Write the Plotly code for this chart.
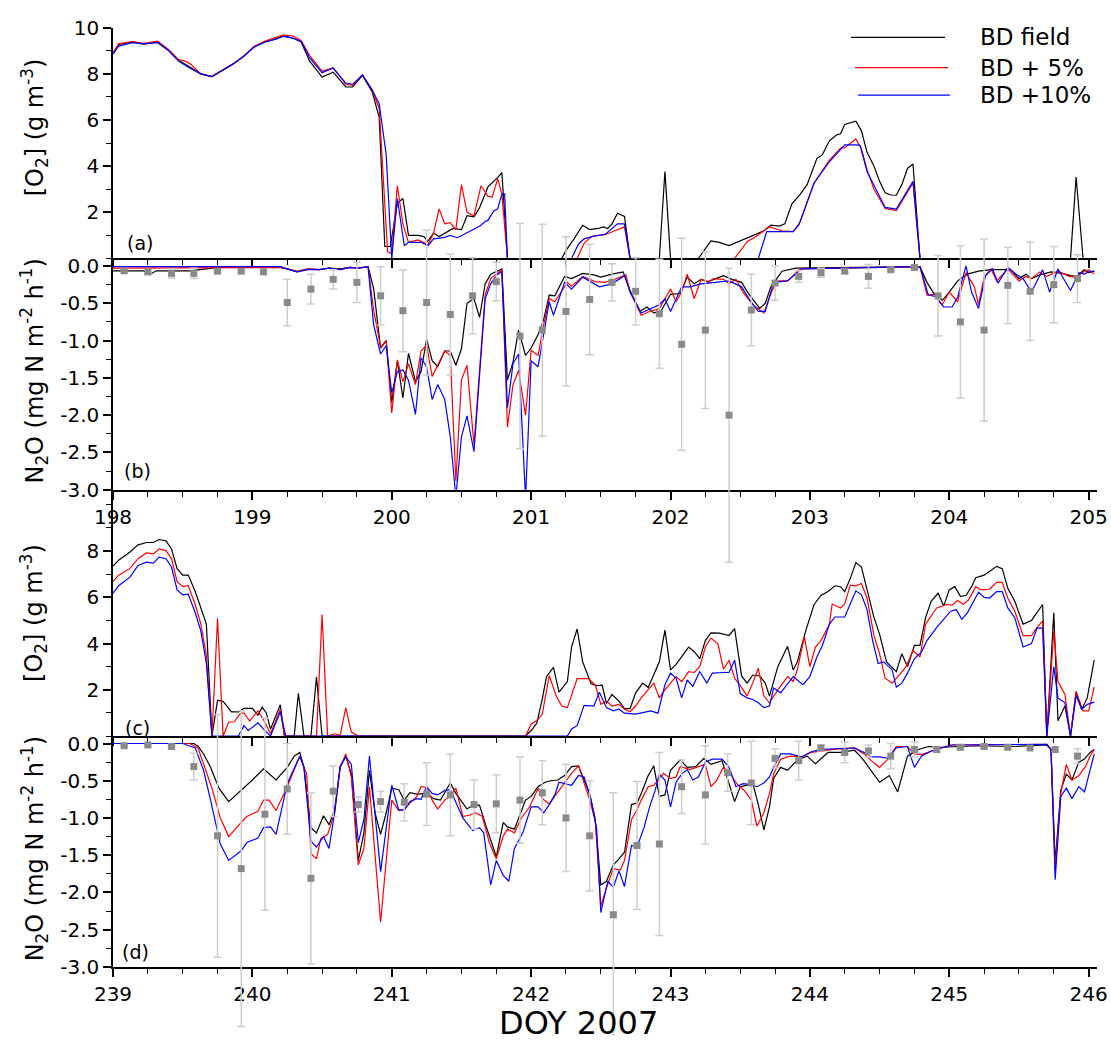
import plotly.graph_objects as go

# ---------------- Panel (a): [O2] DOY 198-205 ----------------
A_FIELD = [(198.00,8.9),(198.04,9.27),(198.14,9.38),(198.22,9.29),(198.32,9.38),(198.40,9.01),(198.47,8.59),(198.55,8.28),
 (198.63,8.00),(198.71,7.88),(198.78,8.14),(198.86,8.42),(198.94,8.77),(199.01,9.15),(199.09,9.38),(199.17,9.52),
 (199.22,9.66),(199.29,9.55),(199.35,9.38),(199.41,8.56),(199.50,7.86),(199.58,8.07),(199.67,7.43),(199.72,7.43),
 (199.79,7.93),(199.86,7.22),(199.91,6.10),(199.95,0.52),(199.99,0.52),(200.04,2.40),(200.08,2.60),(200.12,1.00),
 (200.19,1.00),(200.23,0.95),(200.26,0.75),(200.30,1.10),(200.34,0.95),(200.44,1.30),(200.50,1.25),(200.54,1.85),
 (200.59,1.80),(200.63,2.20),(200.69,3.10),(200.76,3.50),(200.79,3.72),(200.83,0),(201.22,0),(201.25,0.35),
 (201.31,0.87),(201.37,1.44),(201.42,1.25),(201.48,1.30),(201.52,1.37),(201.55,1.30),(201.58,1.50),(201.62,1.96),
 (201.67,1.82),(201.71,0),(201.92,0),(201.96,3.77),(202.00,0),(202.20,0),(202.29,0.76),(202.35,0.70),(202.42,0.56),
 (202.51,0.80),(202.59,1.00),(202.67,1.20),(202.72,1.44),(202.78,1.40),(202.82,1.50),(202.87,2.36),(202.93,2.78),
 (202.98,3.20),(203.05,4.33),(203.09,4.50),(203.14,5.10),(203.19,5.35),(203.22,5.40),(203.25,5.81),(203.33,5.95),
 (203.37,5.53),(203.41,4.60),(203.46,4.00),(203.50,3.34),(203.54,2.85),(203.58,2.75),(203.62,2.74),(203.66,3.20),
 (203.70,3.90),(203.74,4.09),(203.79,0),(204.87,0),(204.91,3.53),(204.96,0),(205.06,0)]
A_PLUS5 = [(198.00,8.9),(198.04,9.30),(198.14,9.40),(198.22,9.32),(198.32,9.42),(198.40,9.05),(198.47,8.62),(198.52,8.55),
 (198.56,8.40),(198.63,8.00),(198.71,7.88),(198.78,8.14),(198.86,8.42),(198.94,8.77),(199.01,9.18),(199.09,9.42),
 (199.17,9.58),(199.22,9.68),(199.29,9.65),(199.35,9.45),(199.41,8.80),(199.50,8.12),(199.58,8.25),(199.67,7.55),
 (199.72,7.50),(199.79,7.95),(199.86,7.30),(199.91,6.50),(199.97,0.30),(200.00,0.20),(200.04,3.15),(200.08,1.50),
 (200.12,0.70),(200.19,0.80),(200.26,0.60),(200.30,1.10),(200.34,2.15),(200.38,1.50),(200.42,1.55),(200.46,1.25),
 (200.50,3.20),(200.54,2.00),(200.59,1.85),(200.64,3.15),(200.69,2.70),(200.72,2.65),(200.76,3.45),(200.79,2.80),
 (200.83,0),(201.33,0),(201.38,0.66),(201.43,0.94),(201.48,1.00),(201.53,1.03),(201.60,1.20),(201.67,1.37),
 (201.71,0),(202.46,0),(202.55,0.73),(202.61,0.94),(202.71,1.37),(202.80,1.20),(202.88,1.16),(202.93,1.58),
 (203.03,3.27),(203.14,4.26),(203.22,4.78),(203.25,4.80),(203.33,5.18),(203.37,4.75),(203.41,3.84),(203.46,3.00),
 (203.54,2.17),(203.62,2.07),(203.67,2.57),(203.74,3.27),(203.79,0),(205.06,0)]
A_PLUS10 = [(198.00,8.85),(198.04,9.20),(198.14,9.35),(198.22,9.30),(198.32,9.35),(198.40,9.00),(198.47,8.55),(198.55,8.25),
 (198.63,8.00),(198.71,7.88),(198.78,8.14),(198.86,8.42),(198.94,8.77),(199.01,9.15),(199.09,9.38),(199.17,9.50),
 (199.22,9.62),(199.29,9.55),(199.35,9.40),(199.41,8.70),(199.50,8.05),(199.58,8.25),(199.67,7.60),(199.72,7.55),
 (199.79,7.95),(199.86,7.30),(199.91,6.70),(199.96,4.50),(200.00,0),(200.04,2.60),(200.09,0.55),(200.12,0.70),
 (200.21,0.70),(200.26,0.55),(200.30,0.85),(200.37,0.90),(200.42,1.00),(200.47,0.90),(200.52,1.05),(200.57,1.20),
 (200.63,1.40),(200.67,1.60),(200.69,1.65),(200.73,2.05),(200.76,2.15),(200.79,2.80),(200.81,2.80),(200.83,0),
 (201.29,0),(201.34,0.63),(201.38,0.85),(201.45,0.97),(201.53,1.04),(201.62,1.50),(201.67,1.50),(201.71,0),
 (202.63,0),(202.69,1.16),(202.81,1.16),(202.88,1.16),(202.92,1.44),(203.03,3.27),(203.14,4.19),(203.25,4.92),
 (203.33,4.92),(203.36,4.90),(203.41,3.77),(203.54,2.21),(203.62,2.14),(203.74,3.34),(203.79,0),(205.06,0)]

# ---------------- Panel (b): N2O flux DOY 198-205 ----------------
B_FIELD = [(198.00,-0.065),(198.22,-0.065),(198.26,-0.12),(198.31,-0.065),(198.55,-0.065),(198.76,-0.02),(199.20,-0.02),
 (199.25,-0.04),(199.32,-0.08),(199.40,-0.04),(199.48,-0.05),(199.55,-0.03),(199.63,-0.04),(199.70,-0.02),(199.76,-0.03),
 (199.83,-0.01),(199.87,-0.30),(199.92,-1.10),(199.96,-1.00),(200.00,-1.83),(200.04,-1.27),(200.08,-1.77),(200.12,-1.17),
 (200.17,-1.55),(200.21,-1.42),(200.25,-0.98),(200.29,-1.27),(200.33,-1.35),(200.38,-1.14),(200.42,-1.14),(200.46,-1.33),
 (200.50,-1.11),(200.54,-0.50),(200.59,-0.44),(200.63,-0.69),(200.67,-0.24),(200.71,-0.11),(200.75,-0.07),(200.79,-0.04),
 (200.83,-1.53),(200.87,-1.29),(200.91,-0.86),(200.96,-1.20),(201.00,-1.10),(201.05,-0.92),(201.09,-0.72),(201.13,-0.39),
 (201.17,-0.40),(201.24,-0.14),(201.29,-0.17),(201.37,-0.10),(201.45,-0.12),(201.50,-0.15),(201.58,-0.11),(201.66,-0.08),
 (201.71,-0.33),(201.78,-0.61),(201.83,-0.55),(201.88,-0.63),(201.93,-0.61),(202.00,-0.38),(202.07,-0.37),(202.12,-0.15),
 (202.17,-0.24),(202.22,-0.18),(202.27,-0.21),(202.33,-0.17),(202.38,-0.13),(202.44,-0.18),(202.51,-0.22),(202.56,-0.37),
 (202.64,-0.57),(202.68,-0.50),(202.72,-0.28),(202.80,-0.07),(202.90,-0.03),(203.79,-0.01),(203.84,-0.22),(203.89,-0.37),
 (203.95,-0.46),(204.00,-0.35),(204.06,-0.20),(204.13,-0.11),(204.21,-0.07),(204.30,-0.05),(204.44,-0.05),(204.50,-0.17),
 (204.55,-0.11),(204.59,-0.17),(204.65,-0.12),(204.73,-0.08),(204.81,-0.10),(204.87,-0.13),(204.91,-0.14),(204.97,-0.05),
 (205.00,-0.09),(205.04,-0.07)]
B_PLUS5 = [(198.00,-0.03),(199.20,-0.02),(199.25,-0.04),(199.32,-0.07),(199.40,-0.04),(199.48,-0.05),(199.55,-0.03),
 (199.63,-0.05),(199.70,-0.02),(199.76,-0.03),(199.83,-0.01),(199.87,-0.59),(199.92,-1.09),(199.96,-1.00),(200.00,-1.97),
 (200.04,-1.26),(200.08,-1.55),(200.12,-1.31),(200.17,-1.59),(200.21,-1.14),(200.25,-1.06),(200.29,-1.48),(200.33,-1.33),
 (200.38,-1.14),(200.42,-1.20),(200.46,-2.88),(200.50,-1.53),(200.54,-1.33),(200.59,-2.40),(200.67,-0.39),(200.71,-0.17),
 (200.75,-0.11),(200.79,-0.05),(200.83,-2.16),(200.87,-1.59),(200.91,-1.40),(200.96,-2.00),(201.00,-1.13),(201.05,-1.20),
 (201.09,-0.79),(201.13,-0.44),(201.17,-0.48),(201.26,-0.22),(201.29,-0.27),(201.37,-0.14),(201.46,-0.21),(201.53,-0.22),
 (201.60,-0.18),(201.68,-0.12),(201.71,-0.35),(201.79,-0.66),(201.85,-0.61),(201.92,-0.57),(202.00,-0.31),(202.04,-0.48),
 (202.08,-0.35),(202.12,-0.11),(202.17,-0.44),(202.22,-0.18),(202.27,-0.22),(202.31,-0.17),(202.38,-0.18),(202.42,-0.24),
 (202.47,-0.18),(202.52,-0.35),(202.59,-0.52),(202.67,-0.63),(202.71,-0.42),(202.76,-0.20),(202.84,-0.20),(202.93,-0.04),
 (203.79,-0.01),(203.84,-0.39),(203.89,-0.38),(203.95,-0.52),(204.00,-0.35),(204.06,-0.48),(204.12,-0.09),(204.18,-0.28),
 (204.21,-0.52),(204.25,-0.15),(204.30,-0.04),(204.34,-0.20),(204.42,-0.04),(204.50,-0.20),(204.55,-0.14),(204.59,-0.17),
 (204.65,-0.08),(204.70,-0.14),(204.78,-0.07),(204.86,-0.14),(204.91,-0.15),(204.97,-0.07),(205.00,-0.05),(205.04,-0.11)]
B_PLUS10 = [(198.00,-0.01),(199.20,-0.01),(199.25,-0.04),(199.32,-0.08),(199.40,-0.05),(199.48,-0.05),(199.55,-0.03),
 (199.63,-0.05),(199.70,-0.02),(199.76,-0.03),(199.83,-0.01),(199.87,-0.79),(199.92,-1.18),(199.96,-1.07),(200.00,-1.70),
 (200.04,-1.42),(200.08,-1.39),(200.12,-1.53),(200.17,-1.99),(200.21,-1.23),(200.25,-1.35),(200.29,-1.79),(200.33,-1.59),
 (200.38,-1.79),(200.42,-2.29),(200.46,-3.10),(200.50,-2.29),(200.54,-2.01),(200.59,-2.49),(200.67,-0.44),(200.71,-0.24),
 (200.75,-0.13),(200.79,-0.07),(200.83,-1.90),(200.87,-1.31),(200.91,-1.18),(200.96,-3.12),(201.00,-1.27),(201.05,-1.35),
 (201.09,-0.92),(201.13,-0.48),(201.16,-0.66),(201.24,-0.22),(201.29,-0.31),(201.37,-0.15),(201.49,-0.28),(201.58,-0.24),
 (201.67,-0.13),(201.71,-0.35),(201.79,-0.63),(201.86,-0.57),(201.92,-0.52),(201.96,-0.44),(202.00,-0.61),(202.08,-0.28),
 (202.14,-0.28),(202.22,-0.24),(202.33,-0.22),(202.42,-0.20),(202.51,-0.28),(202.57,-0.46),(202.63,-0.61),(202.68,-0.61),
 (202.74,-0.22),(202.84,-0.20),(202.94,-0.04),(203.79,-0.01),(203.85,-0.39),(203.90,-0.41),(203.96,-0.55),(204.02,-0.55),
 (204.06,-0.42),(204.12,0.00),(204.16,-0.35),(204.21,-0.57),(204.26,-0.13),(204.31,-0.04),(204.35,-0.23),(204.42,-0.02),
 (204.48,-0.11),(204.53,-0.17),(204.59,-0.35),(204.67,-0.05),(204.72,-0.35),(204.78,-0.04),(204.87,-0.33),(204.93,-0.09),
 (204.97,-0.11),(205.00,-0.08),(205.04,-0.07)]
# measured fluxes: (day, mean, error)
B_MEASURED = [(198.08,-0.065,0.02),(198.25,-0.08,0.03),(198.42,-0.10,0.06),(198.58,-0.10,0.07),(198.75,-0.07,0.02),
 (198.92,-0.07,0.02),(199.08,-0.08,0.03),(199.25,-0.49,0.31),(199.42,-0.31,0.20),(199.58,-0.18,0.13),(199.75,-0.22,0.27),
 (199.92,-0.40,0.39),(200.08,-0.60,0.55),(200.25,-0.49,0.97),(200.42,-0.65,0.81),(200.58,-0.40,0.51),(200.75,-0.21,0.26),
 (200.92,-0.94,1.51),(201.08,-0.86,1.42),(201.25,-0.61,1.00),(201.42,-0.45,0.74),(201.58,-0.22,0.25),(201.75,-0.34,0.45),
 (201.92,-0.64,0.73),(202.08,-1.05,1.42),(202.25,-0.86,1.05),(202.42,-2.00,1.97),(202.58,-0.59,0.48),(202.75,-0.23,0.23),
 (202.92,-0.14,0.08),(203.08,-0.09,0.06),(203.25,-0.07,0.03),(203.42,-0.14,0.16),(203.58,-0.05,0.02),(203.75,-0.02,0.02),
 (203.92,-0.40,0.54),(204.08,-0.75,1.02),(204.25,-0.86,1.22),(204.42,-0.26,0.51),(204.58,-0.34,0.66),(204.75,-0.25,0.51),
 (204.92,-0.17,0.32)]

# ---------------- Panel (c): [O2] DOY 239-246 ----------------
C_FIELD = [(239.00,7.35),(239.04,7.60),(239.12,7.95),(239.18,8.27),(239.24,8.37),(239.29,8.37),(239.33,8.50),(239.38,8.44),
 (239.42,8.09),(239.46,7.24),(239.50,6.96),(239.54,6.96),(239.59,6.25),(239.63,5.54),(239.67,4.84),(239.71,0),(239.75,1.55),
 (239.79,1.50),(239.85,1.05),(239.90,1.05),(239.94,1.20),(240.00,1.20),(240.04,0.90),(240.07,1.25),(240.10,1.00),
 (240.13,0.30),(240.20,1.35),(240.23,0),(240.30,0),(240.33,1.85),(240.37,0),(240.42,0),(240.46,2.55),(240.50,0),
 (241.96,0),(242.00,0.24),(242.04,0.55),(242.08,1.60),(242.11,2.57),(242.16,2.97),(242.20,1.90),(242.26,2.36),
 (242.29,3.85),(242.33,4.63),(242.37,3.21),(242.43,2.26),(242.47,2.18),(242.51,2.20),(242.54,1.41),(242.58,1.80),
 (242.63,1.51),(242.67,1.19),(242.71,1.19),(242.75,1.87),(242.80,2.29),(242.84,2.10),(242.92,3.21),(242.96,4.58),
 (243.00,2.86),(243.04,3.10),(243.13,3.85),(243.17,3.65),(243.21,3.35),(243.25,4.13),(243.29,4.46),(243.35,4.45),
 (243.42,4.35),(243.46,4.65),(243.51,2.60),(243.55,2.29),(243.59,2.64),(243.64,2.60),(243.68,2.29),(243.71,1.73),
 (243.77,3.00),(243.84,3.88),(243.88,2.86),(243.91,3.21),(243.97,4.55),(244.03,5.69),(244.08,6.08),(244.13,6.25),
 (244.18,6.50),(244.22,6.46),(244.25,6.25),(244.29,6.82),(244.33,7.50),(244.37,7.31),(244.41,6.39),(244.46,5.12),
 (244.50,4.41),(244.55,3.21),(244.62,2.79),(244.66,3.56),(244.70,3.00),(244.75,3.92),(244.79,3.92),(244.83,5.12),
 (244.87,5.83),(244.92,6.18),(244.96,5.62),(245.00,6.32),(245.04,6.46),(245.08,6.04),(245.12,6.08),(245.16,6.46),
 (245.19,6.85),(245.25,6.96),(245.29,7.13),(245.34,7.34),(245.38,7.24),(245.42,6.39),(245.47,5.83),(245.53,4.84),
 (245.59,5.00),(245.64,5.40),(245.67,5.69),(245.70,0),(245.75,5.33),(245.78,0.66),(245.83,1.30),(245.87,0),
 (245.91,1.90),(245.95,1.16),(245.99,1.65),(246.04,3.28)]
C_PLUS5 = [(239.00,6.68),(239.04,6.96),(239.12,7.24),(239.18,7.67),(239.24,7.92),(239.29,7.88),(239.33,8.09),(239.38,8.02),
 (239.42,7.67),(239.46,6.68),(239.50,6.46),(239.54,6.50),(239.59,5.69),(239.63,4.84),(239.67,3.50),(239.71,0),(239.75,5.09),
 (239.79,0),(239.83,0.60),(239.87,0.62),(239.91,0.95),(239.94,1.00),(239.98,0.65),(240.04,1.09),(240.09,0.60),
 (240.13,0.10),(240.20,1.16),(240.23,0),(240.46,0),(240.50,5.26),(240.54,0),(240.59,0.10),(240.63,0.03),(240.67,1.23),
 (240.71,0.17),(240.76,0),(241.96,0),(242.00,0.52),(242.04,0.66),(242.08,0.95),(242.13,2.62),(242.18,1.73),(242.22,1.30),
 (242.26,1.23),(242.33,2.48),(242.41,2.48),(242.46,2.22),(242.50,1.37),(242.54,1.51),(242.58,1.30),(242.63,1.37),
 (242.67,1.16),(242.71,1.05),(242.75,1.30),(242.79,1.65),(242.88,2.29),(242.92,1.65),(242.96,2.00),(243.00,2.29),
 (243.04,2.57),(243.08,2.36),(243.13,2.79),(243.17,2.75),(243.21,3.00),(243.25,3.85),(243.29,4.24),(243.34,3.99),
 (243.38,2.89),(243.42,3.28),(243.46,2.50),(243.50,2.18),(243.55,1.73),(243.59,2.30),(243.63,2.93),(243.67,1.73),
 (243.71,1.44),(243.77,2.00),(243.84,2.57),(243.88,2.36),(243.91,2.86),(243.96,4.30),(244.00,3.00),(244.04,3.85),
 (244.08,4.13),(244.14,4.84),(244.16,5.71),(244.22,5.54),(244.25,5.71),(244.29,6.53),(244.33,6.50),(244.37,6.60),
 (244.41,5.97),(244.46,4.34),(244.50,3.56),(244.54,2.50),(244.59,2.29),(244.64,2.64),(244.69,3.00),(244.74,3.70),
 (244.79,3.42),(244.83,4.84),(244.91,5.54),(244.98,5.69),(245.02,5.66),(245.06,5.86),(245.10,5.70),(245.14,5.90),
 (245.19,6.46),(245.23,6.32),(245.29,6.35),(245.34,6.65),(245.38,6.65),(245.42,5.97),(245.47,5.40),(245.53,4.34),
 (245.59,4.34),(245.63,4.70),(245.67,4.98),(245.70,0),(245.75,4.55),(245.78,2.36),(245.83,1.80),(245.87,0),
 (245.91,1.94),(245.96,1.09),(246.00,1.09),(246.04,2.12)]
C_PLUS10 = [(239.00,6.18),(239.04,6.50),(239.12,6.86),(239.18,7.38),(239.24,7.52),(239.29,7.48),(239.33,7.74),(239.38,7.67),
 (239.42,7.31),(239.46,6.32),(239.50,6.11),(239.54,6.14),(239.59,5.33),(239.63,4.55),(239.67,3.14),(239.71,0),(239.90,0),
 (239.94,0.45),(239.97,0.24),(240.04,0.57),(240.08,0.30),(240.13,0),(240.20,1.05),(240.24,0),(242.26,0),(242.29,0.31),
 (242.33,0.45),(242.38,1.33),(242.45,1.30),(242.49,1.90),(242.54,1.23),(242.59,1.09),(242.63,1.16),(242.67,0.99),
 (242.75,0.95),(242.80,1.02),(242.86,1.09),(242.91,0.99),(242.96,2.22),(243.00,2.72),(243.04,2.51),(243.08,1.65),
 (243.12,2.43),(243.16,2.15),(243.21,2.79),(243.26,2.29),(243.30,2.72),(243.39,2.75),(243.42,2.75),(243.46,3.28),
 (243.50,1.84),(243.55,1.65),(243.59,1.58),(243.63,1.44),(243.67,1.23),(243.71,1.30),(243.74,2.08),(243.79,1.87),
 (243.88,2.57),(243.95,2.22),(244.00,2.57),(244.05,3.42),(244.09,3.92),(244.14,4.84),(244.18,5.15),(244.25,5.15),
 (244.29,5.69),(244.33,6.28),(244.37,6.11),(244.41,5.47),(244.45,4.13),(244.49,3.14),(244.53,3.21),(244.59,2.86),
 (244.62,2.12),(244.66,2.29),(244.70,2.72),(244.75,3.35),(244.80,3.63),(244.84,4.13),(244.91,4.70),(244.97,5.12),
 (245.01,5.40),(245.05,5.47),(245.09,5.05),(245.13,5.33),(245.21,6.22),(245.25,6.00),(245.29,5.97),(245.34,6.25),
 (245.38,6.25),(245.42,5.54),(245.47,5.12),(245.53,3.85),(245.59,4.00),(245.63,4.67),(245.67,4.67),(245.70,0),
 (245.75,3.00),(245.78,1.65),(245.83,1.44),(245.87,0),(245.91,1.75),(245.95,1.16),(245.99,1.37),(246.04,1.47)]

# ---------------- Panel (d): N2O flux DOY 239-246 ----------------
D_FIELD = [(239.00,0),(239.58,0),(239.61,-0.035),(239.65,-0.14),(239.70,-0.32),(239.76,-0.60),(239.83,-0.78),(239.92,-0.63),
 (240.00,-0.49),(240.08,-0.34),(240.17,-0.49),(240.25,-0.32),(240.30,-0.17),(240.34,-0.12),(240.37,-0.32),(240.42,-1.13),
 (240.46,-1.20),(240.51,-0.97),(240.55,-1.09),(240.59,-0.89),(240.63,-0.32),(240.67,-0.17),(240.71,-0.41),(240.76,-1.57),
 (240.80,-1.20),(240.84,-0.36),(240.88,-0.93),(240.92,-1.22),(240.96,-0.93),(241.00,-0.60),(241.05,-0.62),(241.09,-0.76),
 (241.13,-0.66),(241.18,-0.68),(241.25,-0.67),(241.30,-0.74),(241.35,-0.76),(241.42,-0.53),(241.46,-0.67),(241.51,-0.80),
 (241.54,-0.88),(241.59,-0.82),(241.63,-0.83),(241.68,-1.13),(241.75,-1.52),(241.80,-1.06),(241.83,-1.12),(241.88,-1.15),
 (241.93,-0.89),(241.96,-0.76),(242.00,-0.71),(242.05,-0.58),(242.10,-0.52),(242.14,-0.50),(242.19,-0.49),(242.24,-0.43),
 (242.29,-0.31),(242.34,-0.30),(242.38,-0.49),(242.42,-0.67),(242.46,-1.02),(242.50,-1.90),(242.54,-1.85),(242.59,-1.63),
 (242.63,-1.55),(242.67,-1.46),(242.72,-0.82),(242.76,-0.80),(242.79,-0.67),(242.84,-0.43),(242.88,-0.30),(242.92,-0.71),
 (242.96,-0.69),(243.00,-0.36),(243.07,-0.22),(243.12,-0.32),(243.18,-0.31),(243.24,-0.20),(243.29,-0.28),(243.37,-0.23),
 (243.42,-0.54),(243.46,-0.78),(243.50,-0.58),(243.55,-0.56),(243.59,-0.53),(243.63,-0.82),(243.67,-1.16),(243.71,-0.85),
 (243.74,-0.47),(243.79,-0.32),(243.84,-0.36),(243.91,-0.22),(243.98,-0.17),(244.04,-0.27),(244.13,-0.12),(244.22,-0.12),
 (244.32,-0.09),(244.38,-0.21),(244.43,-0.34),(244.50,-0.52),(244.57,-0.43),(244.63,-0.65),(244.70,-0.17),(244.78,-0.08),
 (244.85,-0.04),(244.95,-0.05),(245.20,-0.03),(245.45,-0.04),(245.70,-0.02),(245.73,-0.08),(245.76,-1.60),(245.80,-0.63),
 (245.84,-0.41),(245.88,-0.49),(245.93,-0.25),(245.97,-0.21),(246.01,-0.12),(246.04,-0.08)]
D_PLUS5 = [(239.00,0),(239.55,0),(239.61,-0.06),(239.66,-0.32),(239.71,-0.60),(239.77,-1.00),(239.83,-1.25),(239.92,-1.06),
 (239.96,-0.98),(240.04,-0.91),(240.08,-0.76),(240.12,-0.76),(240.17,-0.90),(240.25,-0.58),(240.34,-0.17),(240.39,-0.41),
 (240.42,-1.48),(240.46,-1.55),(240.49,-1.28),(240.54,-1.22),(240.59,-0.93),(240.63,-0.32),(240.67,-0.14),(240.71,-0.45),
 (240.76,-1.63),(240.80,-1.41),(240.84,-0.58),(240.92,-2.40),(241.00,-0.76),(241.05,-0.90),(241.09,-0.89),(241.13,-0.80),
 (241.18,-0.71),(241.21,-0.58),(241.25,-0.59),(241.29,-0.76),(241.33,-0.88),(241.38,-0.76),(241.42,-0.71),(241.46,-0.60),
 (241.51,-0.98),(241.56,-0.96),(241.60,-0.93),(241.65,-0.98),(241.70,-1.33),(241.75,-1.55),(241.80,-1.24),(241.83,-1.15),
 (241.88,-1.20),(241.93,-1.00),(241.99,-0.85),(242.05,-0.60),(242.08,-0.74),(242.13,-0.81),(242.19,-0.65),(242.24,-0.52),
 (242.29,-0.40),(242.34,-0.30),(242.38,-0.52),(242.42,-0.76),(242.46,-1.04),(242.50,-2.18),(242.54,-1.94),(242.59,-1.68),
 (242.64,-1.70),(242.67,-1.57),(242.72,-1.02),(242.76,-0.89),(242.79,-0.76),(242.84,-0.58),(242.88,-0.56),(242.95,-0.40),
 (243.00,-0.47),(243.04,-0.45),(243.07,-0.31),(243.14,-0.35),(243.20,-0.31),(243.25,-0.28),(243.29,-0.58),(243.33,-0.50),
 (243.38,-0.32),(243.43,-0.41),(243.48,-0.55),(243.53,-0.63),(243.58,-0.76),(243.62,-1.11),(243.67,-0.93),(243.71,-0.67),
 (243.74,-0.41),(243.79,-0.21),(243.86,-0.17),(243.94,-0.18),(244.01,-0.12),(244.08,-0.10),(244.17,-0.08),(244.32,-0.06),
 (244.39,-0.14),(244.44,-0.23),(244.50,-0.32),(244.56,-0.21),(244.62,-0.04),(244.70,-0.04),(244.75,-0.14),(244.80,-0.15),
 (244.87,-0.10),(244.94,-0.06),(245.01,-0.02),(245.70,-0.01),(245.73,-0.08),(245.76,-1.70),(245.80,-0.67),(245.84,-0.28),
 (245.88,-0.49),(245.93,-0.43),(245.98,-0.30),(246.01,-0.17),(246.04,-0.08)]
D_PLUS10 = [(239.00,0),(239.50,0),(239.59,-0.06),(239.65,-0.36),(239.70,-0.76),(239.77,-1.35),(239.83,-1.57),(239.92,-1.44),
 (239.96,-1.33),(240.04,-1.27),(240.08,-1.13),(240.13,-1.12),(240.17,-1.22),(240.25,-0.54),(240.34,-0.17),(240.37,-0.32),
 (240.42,-1.31),(240.46,-1.39),(240.51,-1.25),(240.55,-1.41),(240.59,-0.93),(240.63,-0.30),(240.67,-0.18),(240.71,-0.28),
 (240.76,-1.33),(240.80,-1.02),(240.84,-0.17),(240.92,-1.72),(241.00,-0.56),(241.05,-0.89),(241.09,-0.89),(241.13,-0.78),
 (241.18,-0.74),(241.21,-0.75),(241.25,-0.58),(241.29,-0.67),(241.33,-0.69),(241.38,-0.63),(241.42,-0.62),(241.46,-0.78),
 (241.51,-1.00),(241.58,-1.17),(241.63,-1.13),(241.66,-1.20),(241.71,-1.90),(241.75,-1.57),(241.80,-1.77),(241.84,-1.85),
 (241.88,-1.41),(241.94,-1.20),(242.00,-0.85),(242.05,-0.85),(242.09,-0.93),(242.13,-0.82),(242.17,-0.69),(242.20,-0.52),
 (242.29,-0.56),(242.34,-0.43),(242.38,-0.45),(242.43,-0.76),(242.47,-1.15),(242.50,-2.27),(242.55,-1.85),(242.59,-1.93),
 (242.63,-1.71),(242.67,-1.92),(242.72,-1.37),(242.76,-1.39),(242.81,-1.13),(242.85,-0.85),(242.89,-0.63),(242.92,-0.41),
 (242.96,-0.49),(243.00,-0.85),(243.04,-0.52),(243.08,-0.41),(243.12,-0.35),(243.16,-0.49),(243.20,-0.45),(243.25,-0.25),
 (243.30,-0.21),(243.37,-0.21),(243.42,-0.32),(243.47,-0.58),(243.52,-0.54),(243.58,-0.55),(243.62,-0.58),(243.67,-0.53),
 (243.71,-0.45),(243.74,-0.32),(243.79,-0.14),(243.86,-0.14),(243.94,-0.18),(244.01,-0.11),(244.08,-0.08),(244.18,-0.07),
 (244.32,-0.06),(244.39,-0.12),(244.44,-0.18),(244.50,-0.18),(244.56,-0.20),(244.62,-0.06),(244.70,-0.04),(244.75,-0.32),
 (244.80,-0.17),(244.87,-0.10),(244.94,-0.06),(245.02,-0.02),(245.70,-0.01),(245.73,-0.08),(245.76,-1.83),(245.80,-0.71),
 (245.84,-0.60),(245.88,-0.74),(245.93,-0.58),(245.97,-0.65),(246.01,-0.36),(246.04,-0.14)]
D_MEASURED = [(239.08,-0.03,0.01),(239.25,-0.02,0.01),(239.42,-0.04,0.02),(239.58,-0.31,0.18),(239.75,-1.24,1.63),
 (239.92,-1.68,2.12),(240.09,-0.95,1.29),(240.25,-0.61,0.61),(240.42,-1.81,1.15),(240.58,-0.64,0.34),(240.76,-0.82,0.10),
 (240.92,-0.78,0.14),(241.09,-0.79,0.25),(241.25,-0.68,0.42),(241.42,-0.69,0.55),(241.59,-0.82,0.33),(241.75,-0.81,0.39),
 (241.92,-0.76,0.58),(242.08,-0.66,0.43),(242.25,-1.00,0.72),(242.42,-1.24,0.74),(242.59,-2.30,1.64),(242.76,-1.37,0.86),
 (242.92,-1.35,1.23),(243.08,-0.58,0.36),(243.25,-0.69,0.66),(243.41,-0.39,0.25),(243.58,-0.53,0.56),(243.75,-0.20,0.13),
 (243.92,-0.23,0.26),(244.08,-0.06,0.04),(244.25,-0.12,0.14),(244.42,-0.10,0.08),(244.58,-0.17,0.17),(244.75,-0.08,0.10),
 (244.91,-0.08,0.04),(245.08,-0.05,0.03),(245.25,-0.04,0.02),(245.42,-0.05,0.02),(245.58,-0.06,0.02),(245.76,-0.08,0.03),
 (245.92,-0.17,0.10)]

SERIES_NAMES = ["BD field", "BD + 5%", "BD +10%"]
SERIES_COLORS = ["#000000", "#ff0000", "#0000ff"]
O2_TICKS_A = [2, 4, 6, 8, 10]
O2_TICKS_C = [2, 4, 6, 8]
N2O_TICKS = [-3.0, -2.5, -2.0, -1.5, -1.0, -0.5, 0.0]
DAYS_1 = [198, 199, 200, 201, 202, 203, 204, 205]
DAYS_2 = [239, 240, 241, 242, 243, 244, 245, 246]

FONT = "DejaVu Sans, Liberation Sans, Arial, sans-serif"

# panel geometry (paper fractions) and axis ranges
DOM_A, DOM_B, DOM_C, DOM_D = [0.7593, 0.9847], [0.5334, 0.7593], [0.2929, 0.5334], [0.0675, 0.2929]
RNG_O2_A, RNG_O2_C, RNG_N2O = [0, 10], [0, 10.65], [-3, 0.1]

def extended_range(dom, rng):
    # same scale as the panel, but spanning the whole figure height,
    # so that long error bars run past the panel edges as in the original
    k = (rng[1] - rng[0]) / (dom[1] - dom[0])
    return [rng[0] - dom[0] * k, rng[1] + (1 - dom[1]) * k]

fig = go.Figure()

panels = [
    ("x", "y", [A_FIELD, A_PLUS5, A_PLUS10], None, None),
    ("x2", "y2", [B_FIELD, B_PLUS5, B_PLUS10], B_MEASURED, "y5"),
    ("x3", "y3", [C_FIELD, C_PLUS5, C_PLUS10], None, None),
    ("x4", "y4", [D_FIELD, D_PLUS5, D_PLUS10], D_MEASURED, "y6"),
]

for xa, ya, series, meas, ya_ext in panels:
    if meas is not None:
        fig.add_trace(go.Scatter(
            x=[p[0] for p in meas], y=[p[1] for p in meas], mode="markers",
            marker=dict(symbol="square", size=7, color="#8a8a8a"),
            error_y=dict(type="data", array=[p[2] for p in meas], visible=True,
                         color="#cdcdcd", thickness=1.5, width=4),
            cliponaxis=False, showlegend=False, xaxis=xa, yaxis=ya_ext, hoverinfo="skip"))
    for data, name, col in zip(series, SERIES_NAMES, SERIES_COLORS):
        fig.add_trace(go.Scatter(
            x=[p[0] for p in data], y=[p[1] for p in data], mode="lines",
            line=dict(color=col, width=1.2), name=name, showlegend=False,
            xaxis=xa, yaxis=ya, hoverinfo="skip"))

def xaxis(rng, days, anchor, labels):
    return dict(range=rng, anchor=anchor, domain=[0, 1], showline=True, linecolor="black", linewidth=1.5,
                tickmode="array", tickvals=days, ticktext=[str(d) for d in days],
                showticklabels=labels, ticks="outside", ticklen=8, tickwidth=1.5, tickcolor="black",
                tickfont=dict(family=FONT, size=20, color="black"),
                minor=dict(tickmode="linear", tick0=days[0], dtick=0.25, ticks="outside", ticklen=5,
                           tickwidth=1.2, tickcolor="black", showgrid=False),
                showgrid=False, zeroline=False)

def yaxis(rng, dom, tickvals, ticktext, minor_dtick, anchor):
    return dict(range=rng, domain=dom, anchor=anchor, showline=True, linecolor="black", linewidth=1.5,
                tickmode="array", tickvals=tickvals, ticktext=ticktext,
                ticks="outside", ticklen=8, tickwidth=1.5, tickcolor="black",
                tickfont=dict(family=FONT, size=20, color="black"),
                minor=dict(tickmode="linear", tick0=0, dtick=minor_dtick, ticks="outside", ticklen=5,
                           tickwidth=1.2, tickcolor="black", showgrid=False),
                showgrid=False, zeroline=False)

def hidden_yaxis(dom, rng, anchor):
    return dict(domain=[0, 1], range=extended_range(dom, rng), anchor=anchor, visible=False,
                showgrid=False, zeroline=False, fixedrange=True)

n2o_text = ["%.1f" % v for v in N2O_TICKS]

fig.update_layout(
    width=1111, height=1048,
    margin=dict(l=113, r=14, t=0, b=0),
    paper_bgcolor="white", plot_bgcolor="rgba(0,0,0,0)",
    showlegend=False,
    font=dict(family=FONT, color="black"),
    xaxis=xaxis([198, 205.06], DAYS_1, "y", False),
    xaxis2=xaxis([198, 205.06], DAYS_1, "y2", True),
    xaxis3=xaxis([239, 246.06], DAYS_2, "y3", False),
    xaxis4=xaxis([239, 246.06], DAYS_2, "y4", True),
    yaxis=yaxis(RNG_O2_A, DOM_A, O2_TICKS_A, [str(v) for v in O2_TICKS_A], 1, "x"),
    yaxis2=yaxis(RNG_N2O, DOM_B, N2O_TICKS, n2o_text, 0.25, "x2"),
    yaxis3=yaxis(RNG_O2_C, DOM_C, O2_TICKS_C, [str(v) for v in O2_TICKS_C], 1, "x3"),
    yaxis4=yaxis(RNG_N2O, DOM_D, N2O_TICKS, n2o_text, 0.25, "x4"),
    yaxis5=hidden_yaxis(DOM_B, RNG_N2O, "x2"),
    yaxis6=hidden_yaxis(DOM_D, RNG_N2O, "x4"),
)

H = 1048.0
W0, PW = 113.0, 984.0
def px(xp):
    return (xp - W0) / PW
def py(yp):
    return 1 - yp / H

annotations = []
o2_title = "[O<sub>2</sub>] (g m<sup>-3</sup>)"
n2o_title = "N<sub>2</sub>O (mg N m<sup>-2</sup> h<sup>-1</sup>)"
for title, yc in [(o2_title, 118), (n2o_title, 368), (o2_title, 615), (n2o_title, 857)]:
    annotations.append(dict(text=title, x=px(34), y=py(yc), xref="paper", yref="paper",
                            textangle=-90, showarrow=False, xanchor="center", yanchor="middle",
                            font=dict(family=FONT, size=24, color="black")))
for lab, xc, yc in [("(a)", 140, 236), ("(b)", 137, 470), ("(c)", 137, 733), ("(d)", 135, 962)]:
    annotations.append(dict(text=lab, x=px(xc), y=py(yc), xref="paper", yref="paper", showarrow=False,
                            xanchor="center", yanchor="middle", font=dict(family=FONT, size=19, color="black")))
annotations.append(dict(text="DOY 2007", x=px(578), y=py(1035), xref="paper", yref="paper", showarrow=False,
                        xanchor="center", yanchor="middle", font=dict(family=FONT, size=32, color="black")))

shapes = []
legend_rows = [(851, 945, 26), (855, 948, 57), (858, 950, 85)]
for (x0, x1, yr), name, col in zip(legend_rows, SERIES_NAMES, SERIES_COLORS):
    shapes.append(dict(type="line", xref="paper", yref="paper", x0=px(x0), x1=px(x1), y0=py(yr), y1=py(yr),
                       line=dict(color=col, width=1.3)))
    annotations.append(dict(text=name, x=px(978), y=py(yr), xref="paper", yref="paper", showarrow=False,
                            xanchor="left", yanchor="middle", font=dict(family=FONT, size=23, color="black")))

fig.update_layout(annotations=annotations, shapes=shapes)

fig.write_html("out.html")
